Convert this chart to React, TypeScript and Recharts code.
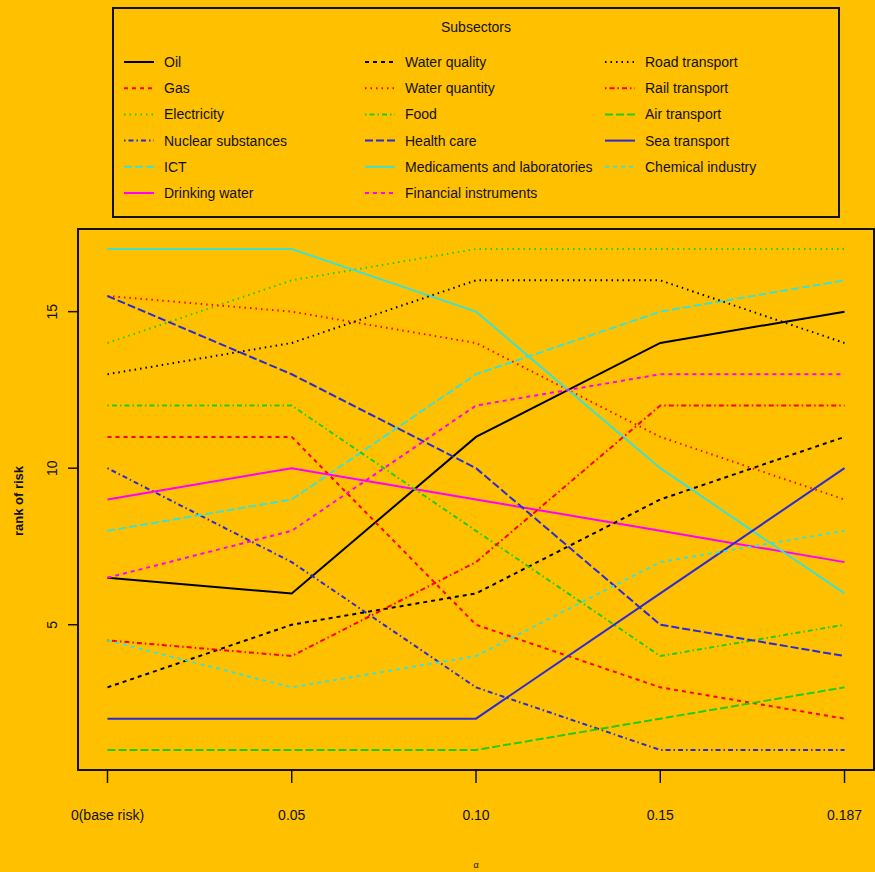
import React from "react";
import { LineChart, Line, XAxis, YAxis, Legend, ReferenceArea } from "recharts";

const steps = ["0(base risk)", "0.05", "0.10", "0.15", "0.187"];

const oil = [6.5, 6, 11, 14, 15];
const gas = [11, 11, 5, 3, 2];
const electricity = [14, 16, 17, 17, 17];
const nuclear = [10, 7, 3, 1, 1];
const ict = [8, 9, 13, 15, 16];
const drinkingWater = [9, 10, 9, 8, 7];
const waterQuality = [3, 5, 6, 9, 11];
const waterQuantity = [15.5, 15, 14, 11, 9];
const food = [12, 12, 8, 4, 5];
const healthCare = [15.5, 13, 10, 5, 4];
const medicaments = [17, 17, 15, 10, 6];
const financial = [6.5, 8, 12, 13, 13];
const roadTransport = [13, 14, 16, 16, 14];
const railTransport = [4.5, 4, 7, 12, 12];
const airTransport = [1, 1, 1, 2, 3];
const seaTransport = [2, 2, 2, 6, 10];
const chemical = [4.5, 3, 4, 7, 8];

const BLACK = "#000000";
const RED = "#ff0000";
const GREEN = "#22cc00";
const BLUE = "#2b2bd6";
const CYAN = "#40e0d0";
const MAGENTA = "#ff00ff";

// R line types 1..5
const SOLID = undefined;
const DASHED = "4 4";
const DOTTED = "1.5 4";
const DOTDASH = "1.5 3 5 3";
const LONGDASH = "8 3";

const series = [
  { name: "Oil", values: oil, color: BLACK, dash: SOLID },
  { name: "Gas", values: gas, color: RED, dash: DASHED },
  { name: "Electricity", values: electricity, color: GREEN, dash: DOTTED },
  { name: "Nuclear substances", values: nuclear, color: BLUE, dash: DOTDASH },
  { name: "ICT", values: ict, color: CYAN, dash: LONGDASH },
  { name: "Drinking water", values: drinkingWater, color: MAGENTA, dash: SOLID },
  { name: "Water quality", values: waterQuality, color: BLACK, dash: DASHED },
  { name: "Water quantity", values: waterQuantity, color: RED, dash: DOTTED },
  { name: "Food", values: food, color: GREEN, dash: DOTDASH },
  { name: "Health care", values: healthCare, color: BLUE, dash: LONGDASH },
  { name: "Medicaments and laboratories", values: medicaments, color: CYAN, dash: SOLID },
  { name: "Financial instruments", values: financial, color: MAGENTA, dash: DASHED },
  { name: "Road transport", values: roadTransport, color: BLACK, dash: DOTTED },
  { name: "Rail transport", values: railTransport, color: RED, dash: DOTDASH },
  { name: "Air transport", values: airTransport, color: GREEN, dash: LONGDASH },
  { name: "Sea transport", values: seaTransport, color: BLUE, dash: SOLID },
  { name: "Chemical industry", values: chemical, color: CYAN, dash: DASHED },
];

const data = steps.map((label, i) => {
  const row: Record<string, number | string> = { x: i, label };
  series.forEach((s, k) => {
    row["s" + k] = s.values[i];
  });
  return row;
});

const FONT = "'Liberation Sans', Arial, sans-serif";
const BG = "#ffc000";

function LegendBox() {
  const colX = [12, 253, 493];
  return (
    <svg width={729} height={212} style={{ display: "block" }}>
      <rect x={1} y={1} width={726} height={209} fill="none" stroke="#111" strokeWidth={2} />
      <text x={364} y={20} textAnchor="middle" dominantBaseline="central" fontSize={14} fontFamily={FONT} fill="#111">
        Subsectors
      </text>
      {series.map((s, i) => {
        const col = Math.floor(i / 6);
        const row = i % 6;
        const x = colX[col];
        const y = 55 + row * 26.2;
        return (
          <g key={s.name}>
            <line x1={x} x2={x + 30} y1={y} y2={y} stroke={s.color} strokeWidth={2} strokeDasharray={s.dash} />
            <text x={x + 40} y={y} dominantBaseline="central" fontSize={14} fontFamily={FONT} fill="#111">
              {s.name}
            </text>
          </g>
        );
      })}
    </svg>
  );
}

const YTick = (props: any) => {
  const { y, payload } = props;
  return (
    <text
      x={52}
      y={y}
      transform={`rotate(-90 52 ${y})`}
      textAnchor="middle"
      dominantBaseline="central"
      fontSize={14}
      fontFamily={FONT}
      fill="#111"
    >
      {payload.value}
    </text>
  );
};

const XTick = (props: any) => {
  const { x, payload } = props;
  return (
    <text x={x} y={815} textAnchor="middle" dominantBaseline="central" fontSize={14} fontFamily={FONT} fill="#111">
      {steps[payload.value]}
    </text>
  );
};

export default function App() {
  return (
    <div style={{ position: "absolute", left: 0, top: 0, width: 875, height: 872, background: BG, overflow: "hidden" }}>
      <LineChart width={875} height={872} data={data} margin={{ top: 229, right: 1, bottom: 42, left: 0 }}>
        <XAxis
          dataKey="x"
          type="number"
          domain={[-0.16, 4.16]}
          ticks={[0, 1, 2, 3, 4]}
          allowDataOverflow
          height={60}
          tickSize={13}
          axisLine={false}
          tickLine={{ stroke: "#111", strokeWidth: 1.5 }}
          tick={<XTick />}
          label={{
            content: () => (
              <text x={476} y={868} textAnchor="middle" fontSize={9} fontFamily={FONT} fill="#111">
                α
              </text>
            ),
          }}
        />
        <YAxis
          type="number"
          domain={[0.36, 17.64]}
          ticks={[5, 10, 15]}
          allowDataOverflow
          width={78}
          tickSize={10}
          axisLine={false}
          tickLine={{ stroke: "#111", strokeWidth: 1.5 }}
          tick={<YTick />}
          label={{
            content: () => (
              <text
                x={18}
                y={501}
                transform="rotate(-90 18 501)"
                textAnchor="middle"
                dominantBaseline="central"
                fontSize={13}
                fontWeight="bold"
                fontFamily={FONT}
                fill="#111"
              >
                rank of risk
              </text>
            ),
          }}
        />
        <ReferenceArea x1={-0.16} x2={4.16} y1={0.36} y2={17.64} fill="none" stroke="#111" strokeWidth={2} />
        {series.map((s, k) => (
          <Line
            key={s.name}
            type="linear"
            dataKey={"s" + k}
            name={s.name}
            stroke={s.color}
            strokeWidth={2}
            strokeDasharray={s.dash}
            dot={false}
            activeDot={false}
            isAnimationActive={false}
          />
        ))}
        <Legend
          layout="vertical"
          align="center"
          verticalAlign="middle"
          wrapperStyle={{ position: "absolute", top: 7, left: 112, width: 729, height: 212 }}
          content={() => <LegendBox />}
        />
      </LineChart>
    </div>
  );
}
